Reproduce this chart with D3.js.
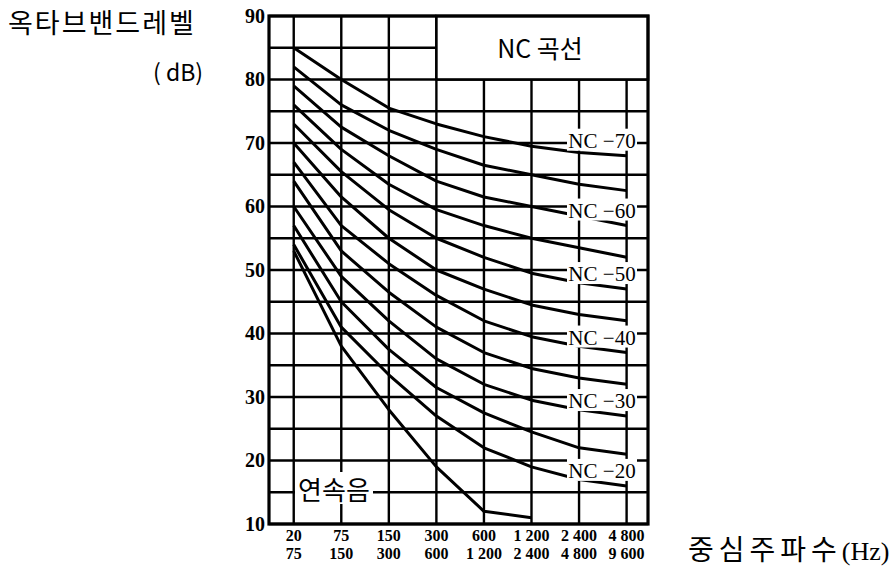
<!DOCTYPE html>
<html>
<head>
<meta charset="utf-8">
<script src="https://cdn.jsdelivr.net/npm/d3@7"></script>
<style>
  html, body { margin: 0; padding: 0; background: #fff; }
  svg { display: block; }
</style>
</head>
<body>
<svg id="chart" width="894" height="568"></svg>
<script>
// Octave bands (lower / upper edge, Hz)
const bandLow  = ["20", "75", "150", "300", "600", "1 200", "2 400", "4 800"];
const bandHigh = ["75", "150", "300", "600", "1 200", "2 400", "4 800", "9 600"];

// Level axis (dB)
const levelTicks = [10, 20, 30, 40, 50, 60, 70, 80, 90];
const gridLevels = [10, 15, 20, 25, 30, 35, 40, 45, 50, 55, 60, 65, 70, 75, 80, 85, 90];

// NC curves: octave band levels (dB) per band
const ncNames = ["NC-70", "NC-65", "NC-60", "NC-55", "NC-50", "NC-45", "NC-40", "NC-35", "NC-30", "NC-25", "NC-20"];
const nc70 = [85, 80, 75.5, 73, 71, 69.5, 68.5, 68];
const nc65 = [82, 76, 72, 69, 66.5, 65, 63.5, 62.5];
const nc60 = [79, 72.5, 68, 64, 61.5, 60, 58.5, 57];
const nc55 = [76, 69, 63.5, 59.5, 57, 55, 53.5, 52];
const nc50 = [73, 65.5, 59.5, 55, 52, 49.5, 48, 47];
const nc45 = [70, 61.5, 55, 50, 47, 44.5, 43, 42];
const nc40 = [67, 57, 51, 46, 42, 39.5, 38, 37];
const nc35 = [64, 53, 46.5, 41, 37, 34.5, 33, 32];
const nc30 = [60, 49, 42, 36, 32, 29.5, 28, 27];
const nc25 = [57, 45, 37.5, 31.5, 27.5, 24.5, 22, 21];
const nc20 = [54, 41, 33.5, 27, 22, 19, 17, 16];
// Continuous-sound limit curve (first six bands)
const continuous = [53, 38, 28, 19, 12, 11];

// Curves that carry a name tag at the right end
const labelled = ["NC-70", "NC-60", "NC-50", "NC-40", "NC-30", "NC-20"];

const ncSeries = [nc70, nc65, nc60, nc55, nc50, nc45, nc40, nc35, nc30, nc25, nc20];

const svg = d3.select("#chart");

const plotLeft = 269, plotRight = 648, plotTop = 16, plotBottom = 524;

// Band index -> x (bands sit on the vertical grid lines)
const x = d3.scaleLinear().domain([-0.52, 7.45]).range([plotLeft, plotRight]);
const y = d3.scaleLinear().domain([10, 90]).range([plotBottom, plotTop]);

const bandIdx = d3.range(bandLow.length);
const boxLeftBand = 3; // title box starts at the 300–600 band line
const boxBottomLevel = 80;

const grid = svg.append("g").attr("stroke", "#000").attr("stroke-width", 2.4).attr("fill", "none");

// Horizontal grid lines (the 85 dB line stops at the title box)
gridLevels.forEach(v => {
  const x2 = v > boxBottomLevel ? x(boxLeftBand) : plotRight;
  grid.append("line")
    .attr("x1", plotLeft).attr("x2", x2)
    .attr("y1", y(v)).attr("y2", y(v));
});

// Vertical grid lines at each band (stop under the title box to its right)
bandIdx.forEach(i => {
  const y1 = i > boxLeftBand ? y(boxBottomLevel) : plotTop;
  grid.append("line")
    .attr("x1", x(i)).attr("x2", x(i))
    .attr("y1", y1).attr("y2", plotBottom);
});

// Title box
svg.append("rect")
  .attr("x", x(boxLeftBand)).attr("y", plotTop)
  .attr("width", plotRight - x(boxLeftBand)).attr("height", y(boxBottomLevel) - plotTop)
  .attr("fill", "#fff").attr("stroke", "#000").attr("stroke-width", 2.6);
svg.append("text")
  .attr("x", 540).attr("y", (plotTop + y(boxBottomLevel)) / 2 - 1)
  .attr("text-anchor", "middle").attr("dominant-baseline", "central")
  .attr("font-family", "'Noto Sans CJK KR', 'Noto Sans', sans-serif")
  .attr("font-size", 25)
  .text("NC 곡선");

// Plot frame
svg.append("rect")
  .attr("x", plotLeft).attr("y", plotTop)
  .attr("width", plotRight - plotLeft).attr("height", plotBottom - plotTop)
  .attr("fill", "none").attr("stroke", "#000").attr("stroke-width", 3.2);

// Curves
const line = d3.line()
  .x((d, i) => x(i))
  .y(d => y(d));

const curves = svg.append("g").attr("fill", "none").attr("stroke", "#000")
  .attr("stroke-width", 3).attr("stroke-linejoin", "round");

ncSeries.forEach(s => curves.append("path").attr("d", line(s)));
curves.append("path").attr("d", line(continuous));

// Name tags at the right end of every other curve
const tagG = svg.append("g");
ncSeries.forEach((s, k) => {
  const name = ncNames[k];
  if (!labelled.includes(name)) return;
  const ty = y(s[s.length - 1]) - 16;
  const cx = 602;
  tagG.append("rect")
    .attr("x", cx - 35).attr("y", ty - 11)
    .attr("width", 70).attr("height", 22)
    .attr("fill", "#fff");
  tagG.append("text")
    .attr("x", cx).attr("y", ty + 1)
    .attr("text-anchor", "middle").attr("dominant-baseline", "central")
    .attr("font-family", "'Liberation Serif', 'DejaVu Serif', serif")
    .attr("font-size", 21)
    .text(name.replace("-", " −"));
});

// Continuous-sound label
const csX = 334, csY = 488;
svg.append("rect")
  .attr("x", csX - 39).attr("y", csY - 16)
  .attr("width", 78).attr("height", 32)
  .attr("fill", "#fff");
svg.append("text")
  .attr("x", csX).attr("y", csY)
  .attr("text-anchor", "middle").attr("dominant-baseline", "central")
  .attr("font-family", "'Noto Sans CJK KR', sans-serif")
  .attr("font-size", 26)
  .text("연속음");

// Level axis labels
const yAxis = d3.axisLeft(y).tickValues(levelTicks).tickSize(0).tickPadding(4);
svg.append("g")
  .attr("transform", `translate(${plotLeft},0)`)
  .call(yAxis)
  .call(g => g.select(".domain").remove())
  .call(g => g.selectAll("text")
    .attr("font-family", "'Liberation Serif', 'DejaVu Serif', serif")
    .attr("font-weight", "bold")
    .attr("font-size", 20)
    .attr("fill", "#000"));

// Band labels (two lines: lower / upper edge)
const xLab = svg.append("g")
  .attr("font-family", "'Liberation Serif', 'DejaVu Serif', serif")
  .attr("font-weight", "bold")
  .attr("font-size", 16)
  .attr("text-anchor", "middle");
bandIdx.forEach(i => {
  xLab.append("text").attr("x", x(i)).attr("y", 541).text(bandLow[i]);
  xLab.append("text").attr("x", x(i)).attr("y", 559).text(bandHigh[i]);
});

// Axis titles
svg.append("text")
  .attr("x", 8).attr("y", 33)
  .attr("font-family", "'Noto Sans CJK KR', sans-serif")
  .attr("font-size", 27).attr("letter-spacing", 2)
  .text("옥타브밴드레벨");
svg.append("text")
  .attr("x", 153).attr("y", 81)
  .attr("font-family", "'Noto Sans CJK KR', sans-serif")
  .attr("font-size", 23)
  .text("( dB)");

const xt = svg.append("text")
  .attr("x", 688).attr("y", 560);
xt.append("tspan")
  .attr("font-family", "'Noto Sans CJK KR', sans-serif")
  .attr("font-size", 28)
  .attr("letter-spacing", 5)
  .text("중심주파수");
xt.append("tspan")
  .attr("font-family", "'Liberation Serif', serif")
  .attr("font-size", 26)
  .text("(Hz)");
</script>
</body>
</html>
